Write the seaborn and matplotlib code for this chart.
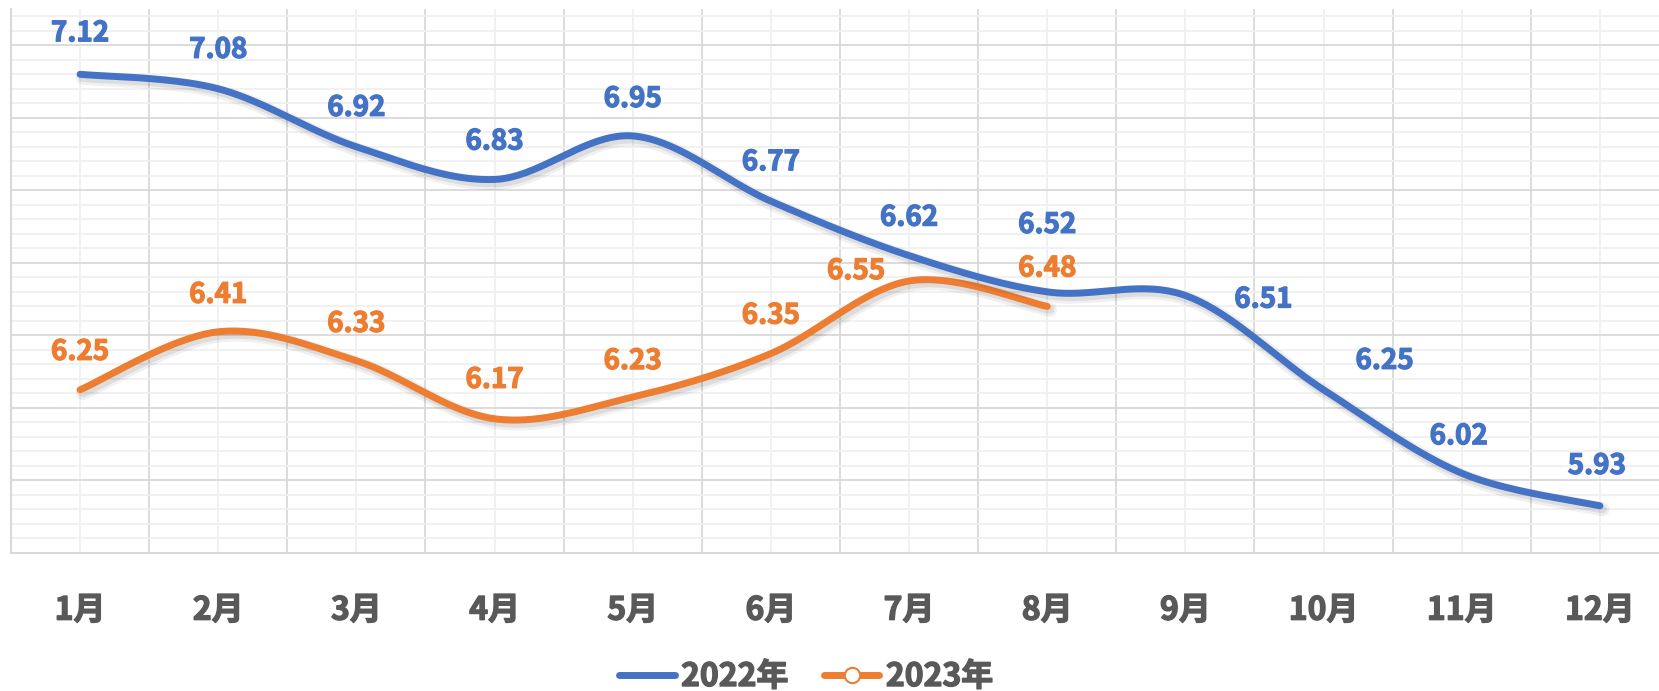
import numpy as np
import pandas as pd
import matplotlib
matplotlib.use("Agg")
import matplotlib.pyplot as plt
import matplotlib.patheffects as pe
from matplotlib.lines import Line2D
from matplotlib.ticker import MultipleLocator, FixedLocator
import seaborn as sns

# ---- data ----
months = ["1月", "2月", "3月", "4月", "5月", "6月", "7月", "8月", "9月", "10月", "11月", "12月"]
v2022 = [7.12, 7.08, 6.92, 6.83, 6.95, 6.77, 6.62, 6.52, 6.51, 6.25, 6.02, 5.93]
v2023 = [6.25, 6.41, 6.33, 6.17, 6.23, 6.35, 6.55, 6.48]
series_names = ["2022年", "2023年"]

# label offsets in pixels (dx, dy up)
off2022 = [(0, 41), (0, 39), (0, 39), (0, 38), (0, 37), (0, 39), (0, 38), (0, 67),
           (78, -4), (61, 29), (-3, 37), (-3, 40)]
off2023 = [(0, 38), (0, 37), (0, 37), (0, 39), (0, 36), (0, 38), (-53, 10), (0, 38)]

BLUE = "#4472C4"
ORANGE = "#ED7D31"
GRAY = "#595959"
W = "bold"

sns.set_theme(style="white")
plt.rcParams["font.family"] = ["Noto Sans CJK SC", "DejaVu Sans"]


def bolder(col, w=0.9):
    return [pe.withStroke(linewidth=w, foreground=col)]


def smooth(xs, ys, n=40):
    """Excel-like Catmull-Rom Bezier smoothing for drawing."""
    P = np.column_stack([xs, ys]).astype(float)
    m = len(P)
    out = []
    for i in range(m - 1):
        p0 = P[i - 1] if i > 0 else P[i]
        p1 = P[i]
        p2 = P[i + 1]
        p3 = P[i + 2] if i + 2 < m else P[i + 1]
        c1 = p1 + (p2 - p0) / 6.0
        c2 = p2 - (p3 - p1) / 6.0
        t = np.linspace(0, 1, n, endpoint=(i == m - 2))[:, None]
        seg = ((1 - t) ** 3) * p1 + 3 * ((1 - t) ** 2) * t * c1 + 3 * (1 - t) * t ** 2 * c2 + t ** 3 * p2
        out.append(seg)
    out = np.vstack(out)
    return out[:, 0], out[:, 1]


fig = plt.figure(figsize=(16.59, 6.91), dpi=100)
ax = fig.add_axes([11 / 1659, 138 / 691, (1669 - 11) / 1659, (553 - 9) / 691])

shadow = [pe.SimpleLineShadow(offset=(2, -2.5), shadow_color="black", alpha=0.06, linewidth=10),
          pe.SimpleLineShadow(offset=(2, -2.5), shadow_color="black", alpha=0.08, linewidth=6),
          pe.Normal()]

for name, vals, col, z in [(series_names[1], v2023, ORANGE, 3), (series_names[0], v2022, BLUE, 4)]:
    sx, sy = smooth(np.arange(len(vals)), vals)
    df = pd.DataFrame({"x": sx, "y": sy})
    sns.lineplot(data=df, x="x", y="y", ax=ax, color=col, linewidth=5, sort=False,
                 zorder=z, legend=False, solid_capstyle="round", path_effects=shadow)

for vals, offs, col in [(v2022, off2022, BLUE), (v2023, off2023, ORANGE)]:
    for i, (v, (dx, dy)) in enumerate(zip(vals, offs)):
        ax.annotate(f"{v:.2f}", xy=(i, v), xytext=(dx, dy), textcoords="offset pixels",
                    ha="center", va="center", fontsize=20, fontweight=W, color=col,
                    zorder=6, path_effects=bolder(col))

ax.set_xlim(-0.5, 11.5)
ax.set_ylim(5.8, 7.3)
ax.yaxis.set_major_locator(MultipleLocator(0.2))
ax.yaxis.set_minor_locator(MultipleLocator(0.04))
ax.xaxis.set_major_locator(FixedLocator(np.arange(12)))
ax.xaxis.set_minor_locator(FixedLocator(np.arange(-0.5, 12.0, 1.0)))
ax.set_xticklabels(months)

ax.grid(which="major", axis="y", color="#D9D9D9", linewidth=1.3)
ax.grid(which="minor", axis="y", color="#F0F0F0", linewidth=1.3)
ax.grid(which="minor", axis="x", color="#D9D9D9", linewidth=1.3)
ax.grid(which="major", axis="x", color="#F0F0F0", linewidth=1.3)
ax.set_axisbelow(True)

ax.tick_params(axis="x", which="both", length=0, pad=30, labelsize=23, labelcolor=GRAY)
for lab in ax.get_xticklabels():
    lab.set_fontweight(W)
    lab.set_path_effects(bolder(GRAY, 1.0))
ax.tick_params(axis="y", which="both", length=0, labelleft=False)
ax.set_xlabel("")
ax.set_ylabel("")
for s in ["top", "right"]:
    ax.spines[s].set_visible(False)
for s in ["left", "bottom"]:
    ax.spines[s].set_color("#D9D9D9")
    ax.spines[s].set_linewidth(1.5)

handles = [
    Line2D([], [], color=BLUE, linewidth=5, solid_capstyle="round"),
    Line2D([], [], color=ORANGE, linewidth=5, solid_capstyle="round", marker="o",
           markersize=11, markerfacecolor="white", markeredgecolor=ORANGE, markeredgewidth=1.5),
]
leg = fig.legend(handles, series_names, loc="center", bbox_to_anchor=(806 / 1659, 14 / 691),
                 ncol=2, frameon=False, handlelength=1.75, handletextpad=0.2, columnspacing=1.1,
                 prop={"size": 23, "weight": W})
for t in leg.get_texts():
    t.set_color(GRAY)
    t.set_path_effects(bolder(GRAY, 1.0))

fig.savefig("out.png", dpi=100)
